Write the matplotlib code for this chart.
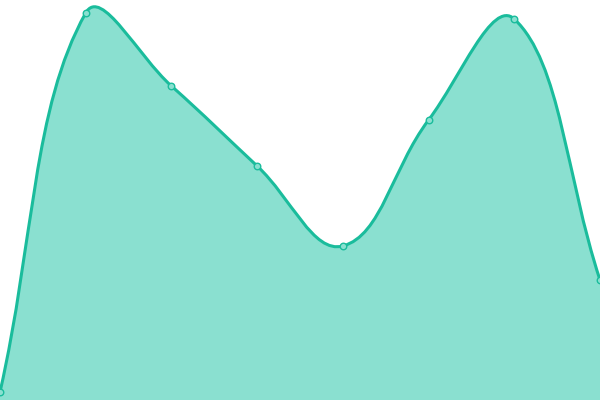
import numpy as np
import matplotlib
matplotlib.use('Agg')
import matplotlib.pyplot as plt
from matplotlib.path import Path
from matplotlib.patches import PathPatch

# values (height above bottom edge, in px of a 400 px canvas)
labels = ['1', '2', '3', '4', '5', '6', '7', '8']
values = [8, 387, 314, 234, 154, 280, 381, 120]

line_color = '#1abc9c'
fill_color = '#8ae0d0'
tension = 0.4

fig = plt.figure(figsize=(6, 4), dpi=100)
ax = fig.add_axes([0, 0, 1, 1])
ax.set_xlim(0, 600)
ax.set_ylim(0, 400)
ax.axis('off')

n = len(values)
xs = np.linspace(0, 600, n)
ys = np.array(values, dtype=float)
pts = np.column_stack([xs, ys])

# cardinal spline control points (same idea as chart.js tension)
cps = []
for i in range(n):
    prev = pts[max(i - 1, 0)]
    cur = pts[i]
    nxt = pts[min(i + 1, n - 1)]
    d01 = np.hypot(*(cur - prev))
    d12 = np.hypot(*(nxt - cur))
    tot = d01 + d12
    s01 = d01 / tot if tot else 0
    s12 = d12 / tot if tot else 0
    c_prev = cur - tension * s01 * (nxt - prev)
    c_next = cur + tension * s12 * (nxt - prev)
    cps.append((c_prev, c_next))

verts = [tuple(pts[0])]
codes = [Path.MOVETO]
for i in range(1, n):
    verts += [tuple(cps[i - 1][1]), tuple(cps[i][0]), tuple(pts[i])]
    codes += [Path.CURVE4] * 3

line_path = Path(verts, codes)
fill_path = Path(verts + [(600, 0), (0, 0), verts[0]],
                 codes + [Path.LINETO, Path.LINETO, Path.CLOSEPOLY])

ax.add_patch(PathPatch(fill_path, facecolor=fill_color, edgecolor='none', zorder=1))
ax.add_patch(PathPatch(line_path, facecolor='none', edgecolor=line_color, lw=2.2, zorder=2))
ax.scatter(xs, ys, s=22, facecolor=fill_color, edgecolor=line_color, linewidth=1, zorder=3, clip_on=False)

fig.savefig('out.png', dpi=100)
